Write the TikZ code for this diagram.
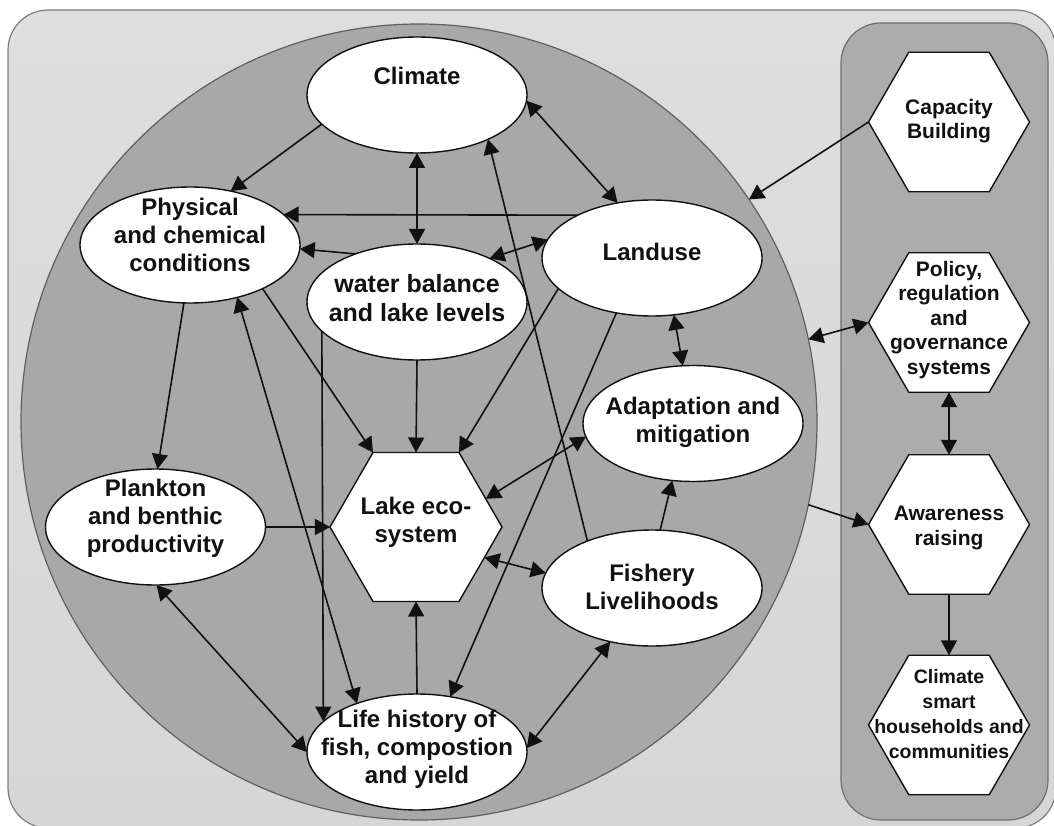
\documentclass[tikz,border=0pt]{standalone}
\usepackage{fontspec}
\setmainfont{Liberation Sans}
\usetikzlibrary{shapes.geometric,arrows.meta}
\definecolor{outerfill}{RGB}{214,214,214}
\definecolor{outertop}{RGB}{222,222,222}
\definecolor{outerline}{RGB}{125,125,125}
\definecolor{circfill}{RGB}{168,168,168}
\definecolor{circline}{RGB}{95,95,95}
\definecolor{panelfill}{RGB}{172,172,172}
\definecolor{panelline}{RGB}{110,110,110}
\definecolor{ink}{RGB}{17,17,17}
\begin{document}
\begin{tikzpicture}[x=1pt,y=-1pt,
  ell/.style={ellipse,draw=ink,line width=1.4pt,fill=white,minimum width=220,minimum height=116,inner sep=0,outer sep=0},
  hexa/.style={regular polygon,regular polygon sides=6,draw=ink,line width=1.4pt,fill=white,inner sep=0,outer sep=0},
  txt/.style={font=\bfseries\fontsize{24}{28}\selectfont,align=center,inner sep=0,text=ink},
  rtxt/.style={font=\bfseries\fontsize{21}{24.5}\selectfont,align=center,inner sep=0,text=ink},
  con/.style={draw=ink,line width=1.6pt,-{Triangle[length=15pt,width=16pt]}},
  dcon/.style={draw=ink,line width=1.6pt,{Triangle[length=15pt,width=16pt]}-{Triangle[length=15pt,width=16pt]}},
]
\useasboundingbox (0,0) rectangle (1054,826);
\clip (0,0) rectangle (1054,826);
% backgrounds
\draw[rounded corners=40,draw=outerline,line width=1.2pt,top color=outertop,bottom color=outerfill] (8,10) rectangle (1056,828);
\node[circle,draw=circline,line width=1.2pt,fill=circfill,minimum size=796,inner sep=0,outer sep=0] (big) at (419,422) {};
\draw[rounded corners=40,draw=panelline,line width=1.2pt,fill=panelfill] (841,23) rectangle (1048,820);
% shapes
\node[ell] (clim) at (417,95) {};
\node[ell] (phys) at (190,245) {};
\node[ell] (water) at (417,302) {};
\node[ell] (land) at (652,258) {};
\node[ell] (adapt) at (693,423.5) {};
\node[ell] (plank) at (155.5,527) {};
\node[hexa,minimum size=172] (lake) at (416,527) {};
\node[ell] (fish) at (652,588) {};
\node[ell] (life) at (417,752) {};
\node[hexa,minimum size=161] (cap) at (949,122) {};
\node[hexa,minimum size=161] (pol) at (949,322.5) {};
\node[hexa,minimum size=161] (aware) at (949,524.5) {};
\node[hexa,minimum size=161] (cs) at (949,725) {};
% connectors
\draw[con] (clim.197) -- (phys.53);
\draw[dcon] (clim.south) -- (water.north);
\draw[dcon] (clim.-3) -- (land.122.5);
\draw[con] (land.150) -- (phys.18);
\draw[con] (water.142.6) -- (phys.-2);
\draw[dcon] (water.31) -- (land.170.3);
\draw[con] (fish.144) -- (clim.-32.7);
\draw[con] (phys.264) -- (plank.88);
\draw[dcon] (life.141.7) -- (phys.-48.9);
\draw[con] (phys.-31) -- (lake.120);
\draw[con] (water.197) -- (life.162.5);
\draw[con] (water.south) -- (lake.north);
\draw[con] (land.198.6) -- (lake.60);
\draw[con] (land.237) -- (life.59.3);
\draw[dcon] (land.-69.5) -- (adapt.100.6);
\draw[dcon] (lake.22.6) -- (adapt.187.1);
\draw[con] (plank.east) -- (lake.west);
\draw[dcon] (plank.271) -- (life.180);
\draw[con] (life.north) -- (lake.south);
\draw[dcon] (lake.-24.6) -- (fish.172.9);
\draw[con] (fish.82) -- (adapt.250.6);
\draw[dcon] (fish.232) -- (life.2);
\draw[con] (cap.west) -- (big.34);
\draw[dcon] (big.12) -- (pol.west);
\draw[dcon] (pol.south) -- (aware.north);
\draw[con] (big.-12.7) -- (aware.west);
\draw[con] (aware.south) -- (cs.north);
% texts
\node[txt] (clim-t) at (417,76) {Climate};
\node[txt] (phys-t) at (190,235) {Physical\\and chemical\\conditions};
\node[txt,font=\bfseries\fontsize{25}{29.5}\selectfont] (water-t) at (417,298) {water balance\\and lake levels};
\node[txt] (land-t) at (652,252) {Landuse};
\node[txt] (adapt-t) at (693,422) {Adaptation and\\mitigation};
\node[txt] (plank-t) at (155.5,518) {Plankton\\and benthic\\productivity};
\node[txt] (lake-t) at (416,522) {Lake eco-\\system};
\node[txt] (fish-t) at (652,587) {Fishery\\Livelihoods};
\node[txt] (life-t) at (417,749) {Life history of\\fish, compostion\\and yield};
\node[rtxt] (cap-t) at (949,121) {Capacity\\Building};
\node[rtxt] (pol-t) at (949,320) {Policy,\\regulation\\and\\governance\\systems};
\node[rtxt] (aware-t) at (949,528) {Awareness\\raising};
\node[rtxt,font=\bfseries\fontsize{19.5}{25.3}\selectfont] (cs-t) at (949,714) {Climate\\smart\\households and\\communities};
\end{tikzpicture}
\end{document}
